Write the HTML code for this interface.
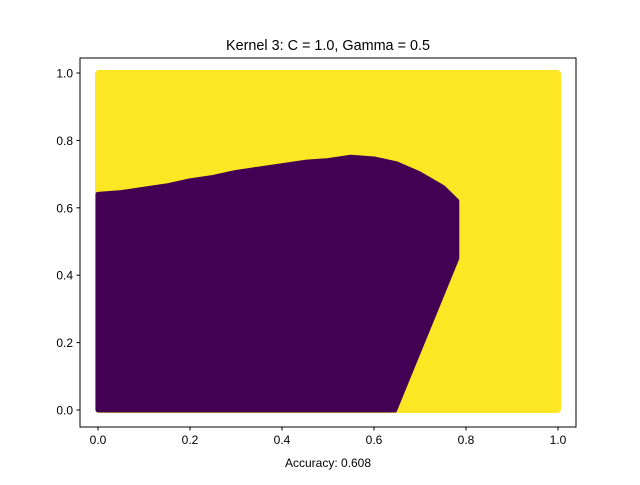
<!DOCTYPE html>
<html><head><meta charset="utf-8"><style>
body{margin:0;background:#fff}
svg text{font-family:"Liberation Sans","DejaVu Sans",sans-serif;fill:#000}
</style></head><body>
<svg width="640" height="480" xmlns="http://www.w3.org/2000/svg">
<rect width="640" height="480" fill="#fff"/>
<g id="plot"></g>
<rect x="80" y="58" width="496" height="369" fill="none" stroke="#000" stroke-width="1"/>
<g id="ticks"></g>
<text x="328" y="50" text-anchor="middle" font-size="14.4">Kernel 3: C = 1.0, Gamma = 0.5</text>
<text x="328" y="467" text-anchor="middle" font-size="12">Accuracy: 0.608</text>
</svg>
<script>
const tickVals=[0,0.2,0.4,0.6,0.8,1.0];
const tickLabels=["0.0","0.2","0.4","0.6","0.8","1.0"];
const boundaryX=[0,0.05,0.1,0.15,0.2,0.25,0.3,0.35,0.4,0.45,0.5,0.55,0.6,0.65,0.7,0.75,0.78,0.78,0.75,0.72,0.69,0.66,0.645,0];
const boundaryY=[0.64,0.645,0.655,0.665,0.68,0.69,0.705,0.715,0.725,0.735,0.74,0.75,0.745,0.73,0.7,0.66,0.62,0.45,0.35,0.25,0.15,0.05,0,0];
const sx=v=>98+v*460, sy=v=>410-v*337;
const NS="http://www.w3.org/2000/svg";
const plot=document.getElementById('plot');
function mk(t,a,p){const e=document.createElementNS(NS,t);for(const k in a)e.setAttribute(k,a[k]);p.appendChild(e);return e;}
const y=mk('rect',{x:sx(0)-3,y:sy(1)-3,width:sx(1)-sx(0)+6,height:sy(0)-sy(1)+6,rx:4,fill:'#fde725'},plot);


const pts=boundaryX.map((v,i)=>sx(v)+','+sy(boundaryY[i])).join(' ');
const p=mk('polygon',{points:pts,fill:'#440154',stroke:'#440154','stroke-width':5,'stroke-linejoin':'round'},plot);


const tg=document.getElementById('ticks');
tickVals.forEach((v,i)=>{
 const x=sx(v);
 const l=mk('line',{x1:x,x2:x,y1:427,y2:430.5,stroke:'#000'},tg);
 
 
 const t=mk('text',{x:x,y:444,'text-anchor':'middle','font-size':12},tg);t.textContent=tickLabels[i];
 
 
 const yy=sy(v);
 const l2=mk('line',{x1:76.5,x2:80,y1:yy,y2:yy,stroke:'#000'},tg);
 
 
 const t2=mk('text',{x:73,y:yy+4.5,'text-anchor':'end','font-size':12},tg);t2.textContent=tickLabels[i];
 
 
});
</script>
</body></html>
